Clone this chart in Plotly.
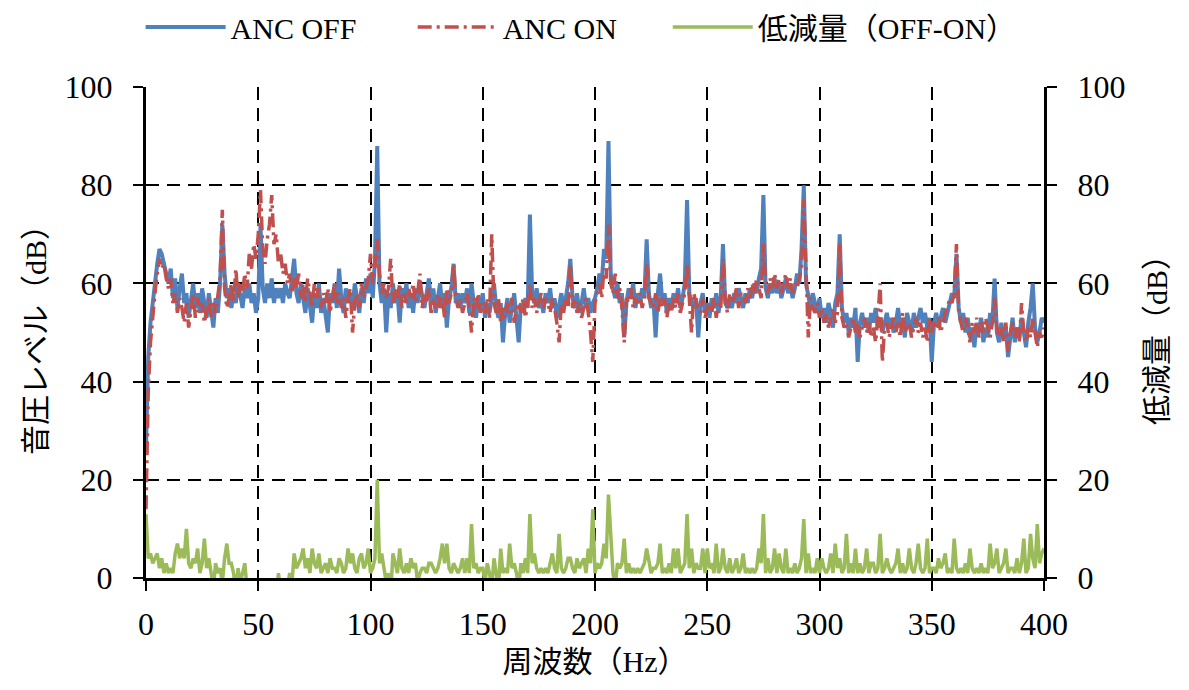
import plotly.graph_objects as go

# Frequency axis (Hz), 1 Hz resolution
freq = list(range(0, 401))

# ANC OFF sound pressure level (dB)
anc_off = [
    27, 45, 52, 56, 61, 64, 67, 66, 64, 62,
    60, 63, 57, 61, 55, 59, 62, 56, 58, 53,
    57, 60, 55, 58, 54, 59, 56, 53, 58, 55,
    51, 57, 54, 60, 72, 62, 57, 59, 55, 58,
    56, 60, 57, 55, 59, 57, 60, 56, 58, 54,
    57, 72, 59, 56, 60, 57, 61, 56, 59, 57,
    59, 56, 60, 58, 57, 61, 65, 58, 56, 60,
    57, 54, 59, 56, 52, 58, 55, 60, 54, 57,
    53, 50, 58, 56, 60, 55, 63, 57, 54, 59,
    56, 58, 55, 60, 57, 54, 59, 56, 61, 58,
    62, 57, 65, 88, 60, 56, 59, 50, 58, 55,
    60, 56, 58, 52, 59, 57, 60, 55, 58, 54,
    59, 56, 60, 57, 55, 58, 61, 56, 59, 54,
    57, 60, 55, 58, 51, 57, 59, 64, 56, 58,
    55, 58, 56, 59, 54, 60, 56, 53, 57, 55,
    58, 53, 56, 54, 57, 60, 55, 53, 56, 48,
    54, 57, 52, 55, 58, 53, 48, 56, 54, 57,
    55, 74, 58, 56, 59, 55, 57, 54, 58, 56,
    59, 55, 57, 53, 56, 58, 55, 57, 60, 65,
    57, 55, 58, 54, 56, 59, 55, 57, 54, 56,
    57, 59, 62, 60, 67, 65, 89, 62, 59, 57,
    60, 56, 58, 49, 56, 59, 57, 60, 55, 58,
    56, 59, 57, 69, 58, 55, 57, 49, 58, 62,
    56, 58, 54, 57, 55, 58, 56, 59, 55, 57,
    60, 77, 58, 56, 55, 57, 49, 56, 58, 54,
    56, 53, 57, 55, 58, 54, 57, 68, 56, 55,
    57, 55, 58, 56, 59, 57, 55, 58, 56, 59,
    57, 60, 58, 61, 63, 78, 59, 57, 60, 58,
    61, 58, 60, 57, 59, 61, 58, 60, 57, 59,
    62, 60, 67, 80, 60, 57, 55, 58, 56, 54,
    57, 53, 55, 52, 56, 54, 51, 56, 58, 70,
    55, 52, 54, 50, 53, 51, 55, 44, 52, 54,
    51, 53, 50, 54, 52, 55, 51, 53, 50, 52,
    54, 51, 53, 50, 52, 55, 51, 53, 49, 54,
    52, 50, 54, 51, 53, 55, 52, 54, 51, 53,
    44, 52, 54, 51, 53, 55, 52, 54, 56, 58,
    57, 66, 55, 52, 54, 50, 53, 49, 51, 47,
    52, 50, 53, 48, 51, 49, 54, 52, 61, 50,
    48, 52, 49, 51, 45, 50, 53, 48, 51, 49,
    53, 50, 47, 52, 55, 60, 51, 48, 50, 53,
    52,
]

# ANC ON sound pressure level (dB)
anc_on = [
    14, 38, 48, 54, 58, 62, 65, 63, 64, 61,
    59, 61, 56, 58, 54, 57, 55, 52, 56, 51,
    55, 58, 53, 57, 54, 56, 52, 55, 57, 53,
    56, 54, 58, 61, 75, 59, 55, 57, 60, 56,
    63, 57, 60, 58, 62, 59, 66, 63, 68, 65,
    70, 79, 67, 64, 69, 72, 78, 68, 70, 64,
    66, 62, 64, 60, 62, 58, 61, 59, 62, 57,
    60, 56, 61, 58, 55, 60, 57, 59, 55, 58,
    56, 59, 54, 57, 60, 56, 58, 55, 57, 53,
    57, 59, 50, 56, 58, 55, 60, 57, 59, 61,
    66, 60, 63, 69, 62, 58, 60, 57, 59, 65,
    56, 59, 57, 60, 55, 58, 56, 59, 57, 60,
    56, 58, 62, 55, 58, 56, 59, 54, 57, 55,
    58, 55, 57, 53, 59, 56, 58, 64, 57, 55,
    57, 54, 56, 58, 55, 50, 57, 55, 58, 54,
    56, 54, 57, 53, 70, 56, 54, 57, 52, 55,
    53, 56, 54, 57, 52, 55, 56, 54, 57, 53,
    56, 60, 55, 57, 54, 56, 58, 55, 57, 56,
    54, 57, 55, 52, 48, 56, 54, 57, 55, 64,
    55, 57, 54, 56, 53, 55, 57, 54, 50, 44,
    56, 58, 60, 57, 63, 61, 72, 60, 58, 62,
    57, 59, 55, 48, 57, 56, 59, 55, 57, 56,
    58, 55, 57, 64, 57, 56, 55, 58, 54, 57,
    55, 57, 53, 56, 54, 57, 55, 58, 54, 56,
    58, 64, 57, 50, 58, 56, 55, 54, 57, 53,
    55, 56, 54, 57, 53, 56, 55, 65, 57, 54,
    58, 56, 57, 59, 55, 58, 57, 56, 59, 57,
    60, 58, 61, 59, 57, 68, 60, 58, 61, 59,
    62, 59, 61, 58, 60, 62, 59, 61, 58, 60,
    59, 61, 63, 77, 64, 49, 57, 55, 54, 56,
    53, 55, 52, 54, 51, 53, 55, 52, 54, 68,
    53, 51, 52, 49, 51, 53, 50, 52, 49, 51,
    53, 50, 52, 49, 51, 48, 53, 60, 44, 51,
    52, 49, 51, 53, 50, 52, 49, 54, 51, 50,
    52, 49, 51, 53, 50, 52, 49, 51, 48, 53,
    50, 52, 51, 53, 50, 52, 54, 55, 57, 56,
    58, 68, 54, 52, 50, 53, 51, 48, 52, 50,
    53, 49, 52, 50, 53, 51, 49, 52, 57, 51,
    49, 51, 48, 52, 46, 50, 52, 49, 51, 48,
    56, 50, 48, 51, 49, 53, 50, 47, 50, 49,
    51,
]

# Reduction (OFF-ON, dB); negative parts fall below the axis
reduction = [
    13, 4, 5, 3, 4, 5, 2, 4, 1, 3,
    1, 2, 1, 5, 7, 4, 6, 4, 10, 3,
    2, 4, 3, 6, 1, 3, 8, 2, 4, 1,
    -2, 3, 1, 2, -1, 4, 7, 3, 3, 1,
    -3, 2, -1, 1, 3, -2, -4, -3, -6, -5,
    -8, -5, -4, -6, -3, -10, -12, -6, -4, 1,
    -3, -2, -1, -2, 1, -1, 5, 2, 3, 4,
    6, 2, 4, 1, 6, 3, 2, 5, 1, 2,
    3, 1, 4, 2, 2, 1, 4, 3, 1, 2,
    6, 3, 5, 2, 1, 4, 5, 2, 3, 6,
    1, 2, 4, 20, 3, 5, 2, -1, 1, -3,
    5, 3, 1, 6, 2, 1, 3, 1, 4, 2,
    3, -1, 1, 2, 2, 1, 3, 3, 2, 1,
    2, 4, 7, 3, 7, 2, 1, 3, 2, 1,
    2, 4, 1, 4, 1, 11, 2, 3, 1, 2,
    2, -1, 3, 1, -2, 4, 1, -2, 6, 1,
    2, 1, 7, 2, 3, 1, -2, 3, 1, 4,
    1, 13, 3, 5, 2, 1, 2, 1, 2, 1,
    3, 5, 2, 1, 9, 2, 1, 2, 4, 4,
    2, 1, 4, 2, 3, 4, 1, 6, 3, 14,
    1, 3, 2, 3, 7, 4, 17, 9, 1, -2,
    3, 2, 3, 8, 1, 3, 1, 2, 1, 2,
    1, 2, 3, 6, 3, 1, 2, 2, 3, 7,
    1, 2, 1, 3, 1, 6, 2, 6, 1, 2,
    3, 13, 2, 6, 1, 3, 2, 2, 6, 1,
    6, 2, 3, 1, 7, 1, 2, 6, 2, 1,
    4, 1, 2, 4, 1, 2, 5, 1, 2, 1,
    2, 1, 2, 6, 3, 13, 1, 4, 1, 2,
    6, 1, 5, 2, 1, 6, 1, 2, 1, 3,
    1, 2, 4, 12, 1, 5, 1, 2, 1, 4,
    1, 4, 2, 1, 2, 5, 1, 7, 2, 4,
    1, 2, 9, 1, 3, 1, 6, 1, 3, 1,
    2, 6, 1, 3, 3, 1, 2, 9, 1, 2,
    4, 2, 1, 2, 3, 6, 1, 3, 1, 2,
    6, 2, 1, 3, 7, 2, 1, 2, 8, 1,
    2, 2, 1, 4, 2, 3, 5, 1, 2, 1,
    8, 2, 1, 2, 1, 3, 1, 6, 2, 1,
    2, 1, 3, 1, 2, 1, 7, 2, 3, 6,
    1, 2, 3, 6, 1, 2, 2, 1, 4, 1,
    3, 8, 1, 2, 9, 4, 2, 11, 3, 5,
    6,
]

x_ticks = [0, 50, 100, 150, 200, 250, 300, 350, 400]
y_ticks = [0, 20, 40, 60, 80, 100]

FONT = "Liberation Serif, Noto Sans CJK JP, serif"

fig = go.Figure()
fig.add_trace(go.Scatter(
    x=freq, y=anc_off, name="ANC OFF", mode="lines",
    line=dict(color="#4F81BD", width=4), legend="legend",
))
fig.add_trace(go.Scatter(
    x=freq, y=anc_on, name="ANC ON", mode="lines",
    line=dict(color="#C0504D", width=3.5, dash="14px,5px,3px,5px"),
    legend="legend2",
))
fig.add_trace(go.Scatter(
    x=freq, y=reduction, name="低減量（OFF-ON）", mode="lines",
    line=dict(color="#9BBB59", width=3.5), yaxis="y2", legend="legend3",
))

axis_common = dict(
    showline=True, linecolor="black", linewidth=3,
    ticks="outside", ticklen=10, tickwidth=2, tickcolor="black",
    tickfont=dict(family=FONT, size=32, color="black"),
    zeroline=False,
)


def legend_at(xpos):
    return dict(
        orientation="h", x=xpos, xanchor="left", y=1.175, yanchor="top",
        font=dict(family=FONT, size=30, color="black"),
        itemwidth=80, bgcolor="rgba(0,0,0,0)",
    )


# the page body has an 8px default margin, so margins are offset by 8px
fig.update_layout(
    width=1189, height=690,
    margin=dict(l=138, r=153, t=79, b=120, autoexpand=False),
    paper_bgcolor="white", plot_bgcolor="white",
    font=dict(family=FONT, color="black"),
    showlegend=True,
    legend=legend_at(-0.006),
    legend2=legend_at(0.297),
    legend3=legend_at(0.581),
    xaxis=dict(
        **axis_common,
        range=[0, 400], tickvals=x_ticks,
        showgrid=True, gridcolor="black", gridwidth=2, griddash="13px,8px",
        ticklabelstandoff=6,
        title=dict(text="周波数（Hz）", font=dict(family=FONT, size=30), standoff=10),
        automargin=False,
    ),
    yaxis=dict(
        **axis_common,
        range=[0, 100], tickvals=y_ticks,
        showgrid=True, gridcolor="black", gridwidth=2, griddash="13px,8px",
        ticklabelstandoff=14,
        title=dict(text="音圧レベル（dB）", font=dict(family=FONT, size=30), standoff=10),
        automargin=False,
    ),
    yaxis2=dict(
        **axis_common,
        overlaying="y", side="right",
        range=[0, 100], tickvals=y_ticks,
        showgrid=False,
        ticklabelstandoff=14,
        title=dict(text="低減量（dB）", font=dict(family=FONT, size=30), standoff=22),
        automargin=False,
    ),
)

fig.write_html("out.html")
